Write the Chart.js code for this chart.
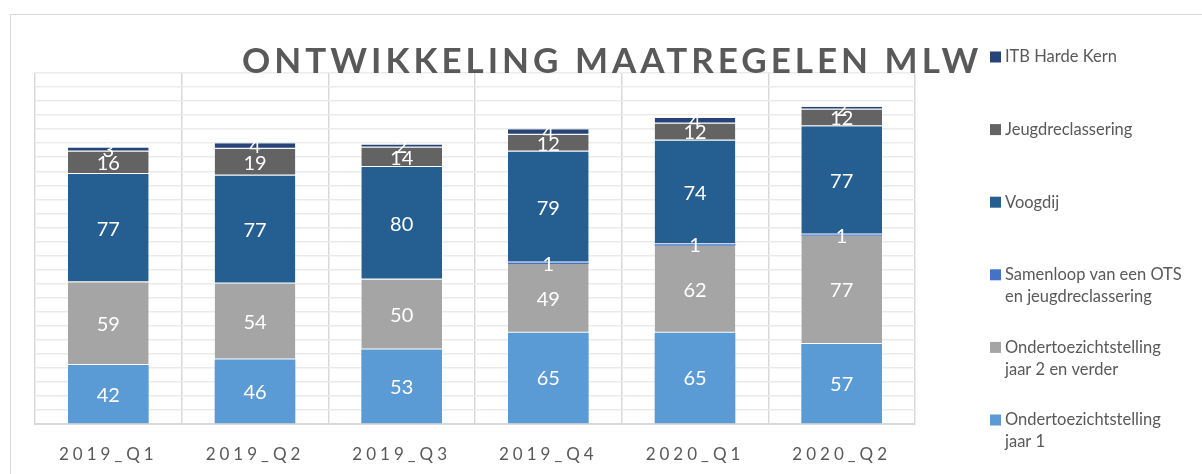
<!DOCTYPE html>
<html>
<head>
<meta charset="utf-8">
<script src="https://cdn.jsdelivr.net/npm/chart.js@4/dist/chart.umd.min.js"></script>
<style>
  html, body { margin:0; padding:0; background:#fff; overflow:hidden; }
  #wrap { position:relative; width:1202px; height:474px; }
  #frame { position:absolute; left:10px; top:14px; width:1400px; height:700px; border:1.5px solid #d9d9d9; box-sizing:border-box; }
  canvas { position:absolute; left:0; top:0; }
</style>
</head>
<body>
<div id="wrap">
  <div id="frame"></div>
  <canvas id="c" width="1202" height="474"></canvas>
</div>
<script>
const categories = ['2019_Q1','2019_Q2','2019_Q3','2019_Q4','2020_Q1','2020_Q2'];
const otsJaar1   = [42, 46, 53, 65, 65, 57];
const otsJaar2   = [59, 54, 50, 49, 62, 77];
const samenloop  = [0, 0, 0, 1, 1, 1];
const voogdij    = [77, 77, 80, 79, 74, 77];
const jeugdrecl  = [16, 19, 14, 12, 12, 12];
const itbHarde   = [3, 4, 2, 4, 4, 2];
const chartTitle = 'ONTWIKKELING MAATREGELEN MLW';
const legendLines = {
  'ITB Harde Kern': ['ITB Harde Kern'],
  'Jeugdreclassering': ['Jeugdreclassering'],
  'Voogdij': ['Voogdij'],
  'Samenloop van een OTS en jeugdreclassering': ['Samenloop van een OTS', 'en jeugdreclassering'],
  'Ondertoezichtstelling jaar 2 en verder': ['Ondertoezichtstelling', 'jaar 2 en verder'],
  'Ondertoezichtstelling jaar 1': ['Ondertoezichtstelling', 'jaar 1']
};

const FONT = 'Lato, "Open Sans", sans-serif';
const TXT = '#595959';

function ds(label, data, color, bottomBorder) {
  return { label, data, backgroundColor: color, borderColor: 'rgba(255,255,255,0.4)',
           borderWidth: { top: 0, left: 0, right: 0, bottom: bottomBorder }, borderSkipped: false,
           categoryPercentage: 1.0, barPercentage: 0.55 };
}

const spacingPlugin = {
  id: 'spacing',
  beforeDraw(chart) { chart.ctx.letterSpacing = '4px'; },
  beforeDatasetsDraw(chart) { chart.ctx.letterSpacing = '0px'; }
};

const labelsPlugin = {
  id: 'valueLabels',
  afterDatasetsDraw(chart) {
    const ctx = chart.ctx;
    ctx.save();
    ctx.letterSpacing = '0px';
    ctx.font = '20px ' + FONT;
    ctx.fillStyle = '#ffffff';
    ctx.textAlign = 'center';
    ctx.textBaseline = 'middle';
    chart.data.datasets.forEach((d, i) => {
      const meta = chart.getDatasetMeta(i);
      meta.data.forEach((el, j) => {
        const v = d.data[j];
        if (!v) return;
        const y = (el.y + el.base) / 2;
        ctx.fillText(String(v), el.x, y + 1);
      });
    });
    ctx.restore();
  }
};

const overlayPlugin = {
  id: 'overlay',
  afterDraw(chart) {
    const ctx = chart.ctx;
    ctx.save();
    // title
    ctx.letterSpacing = '4px';
    ctx.font = 'bold 35px ' + FONT;
    ctx.fillStyle = TXT;
    ctx.textAlign = 'left';
    ctx.textBaseline = 'alphabetic';
    ctx.fillText(chartTitle, 242, 73);
    // legend
    ctx.letterSpacing = '0px';
    ctx.font = '16.5px ' + FONT;
    ctx.textBaseline = 'middle';
    const dsets = chart.data.datasets.slice().reverse();
    const y0 = 57, step = 72.6, lh = 22;
    dsets.forEach((d, k) => {
      const y = y0 + k * step;
      ctx.fillStyle = d.backgroundColor;
      ctx.fillRect(990, y - 5.5, 11, 11);
      ctx.fillStyle = TXT;
      (legendLines[d.label] || [d.label]).forEach((line, n) => {
        ctx.fillText(line, 1005, y + n * lh);
      });
    });
    ctx.restore();
  }
};

new Chart(document.getElementById('c'), {
  type: 'bar',
  data: {
    labels: categories,
    datasets: [
      ds('Ondertoezichtstelling jaar 1', otsJaar1, '#5B9BD5', 0),
      ds('Ondertoezichtstelling jaar 2 en verder', otsJaar2, '#A5A5A5', 1),
      ds('Samenloop van een OTS en jeugdreclassering', samenloop, '#4472C4', 0),
      ds('Voogdij', voogdij, '#255E91', 1),
      ds('Jeugdreclassering', jeugdrecl, '#636363', 1),
      ds('ITB Harde Kern', itbHarde, '#264478', 1)
    ]
  },
  options: {
    responsive: false,
    animation: false,
    events: [],
    layout: { padding: { left: 35, right: 287, top: 73, bottom: 0 } },
    plugins: { legend: { display: false }, title: { display: false }, tooltip: { enabled: false } },
    scales: {
      x: {
        stacked: true,
        grid: { display: true, offset: true, color: '#d9d9d9', lineWidth: 1.5, drawTicks: false },
        border: { display: true, color: '#d9d9d9', width: 2 },
        ticks: { color: TXT, font: { family: FONT, size: 17 }, padding: 20 },
        afterFit(scale) { scale.height = 50; }
      },
      y: {
        stacked: true,
        min: 0, max: 250,
        grid: { color: '#ebebeb', lineWidth: 1.5, drawTicks: false },
        border: { display: false },
        ticks: { display: false, stepSize: 10 },
        afterFit(scale) { scale.width = 0; }
      }
    }
  },
  plugins: [spacingPlugin, labelsPlugin, overlayPlugin]
});
</script>
</body>
</html>
